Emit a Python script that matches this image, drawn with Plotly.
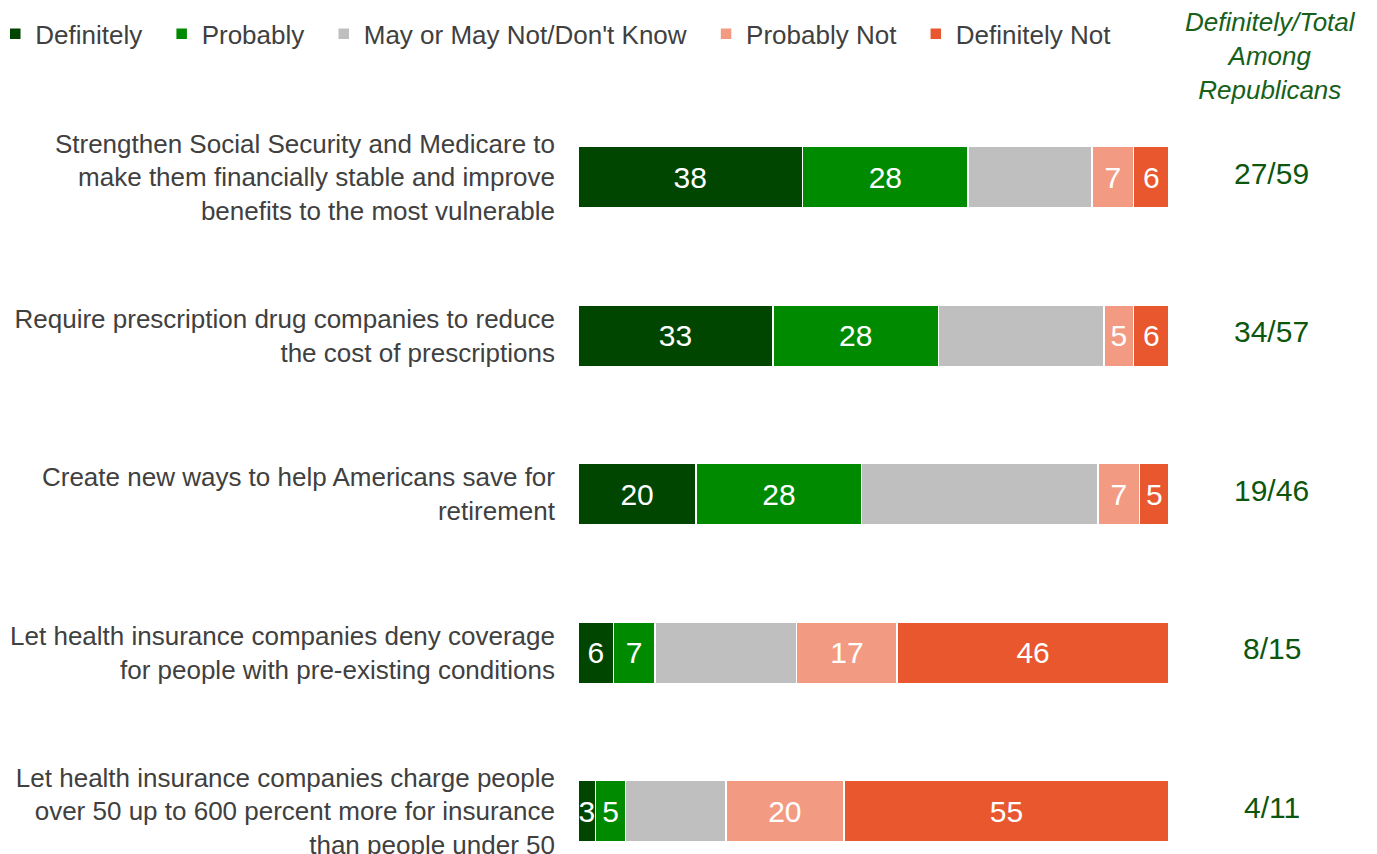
import plotly.graph_objects as go

categories = [
    "Strengthen Social Security and Medicare to<br>make them financially stable and improve<br>benefits to the most vulnerable",
    "Require prescription drug companies to reduce<br>the cost of prescriptions",
    "Create new ways to help Americans save for<br>retirement",
    "Let health insurance companies deny coverage<br>for people with pre-existing conditions",
    "Let health insurance companies charge people<br>over 50 up to 600 percent more for insurance<br>than people under 50",
]
definitely = [38, 33, 20, 6, 3]
probably = [28, 28, 28, 7, 5]
unsure = [21, 28, 40, 24, 17]
probably_not = [7, 5, 7, 17, 20]
definitely_not = [6, 6, 5, 46, 55]
republicans = ["27/59", "34/57", "19/46", "8/15", "4/11"]

NB = "\u00a0"
series = [
    ("Definitely" + NB * 2, definitely, "#004600", True),
    ("Probably" + NB * 2, probably, "#008A00", True),
    ("May or May Not/Don't Know" + NB * 2, unsure, "#BFBFBF", False),
    ("Probably Not" + NB * 2, probably_not, "#F39B82", True),
    ("Definitely Not", definitely_not, "#E8572D", True),
]

fig = go.Figure()
for name, vals, color, labelled in series:
    fig.add_trace(
        go.Bar(
            y=categories,
            x=vals,
            name=name,
            orientation="h",
            marker=dict(color=color, line=dict(color="white", width=1.5)),
            text=[str(v) for v in vals] if labelled else None,
            textposition="inside",
            insidetextanchor="middle",
            textfont=dict(color="white", size=30),
            hoverinfo="skip",
        )
    )

# right-hand column of Republican figures
for cat, txt in zip(categories, republicans):
    fig.add_annotation(
        x=1.174, y=cat, xref="paper", yref="y", text=txt, showarrow=False,
        xanchor="center", yshift=4,
        font=dict(size=30, color="#0d560d"),
    )
fig.add_annotation(
    x=1.171, y=1.055, xref="paper", yref="paper",
    text="<i>Definitely/Total<br>Among<br>Republicans</i>",
    showarrow=False, align="center", xanchor="center", yanchor="middle",
    font=dict(size=26, color="#17601a"),
)

fig.update_layout(
    barmode="stack",
    bargap=0.61,
    width=1377,
    height=854,
    plot_bgcolor="white",
    paper_bgcolor="white",
    font=dict(family="Liberation Sans, Arial, sans-serif", color="#404040"),
    margin=dict(l=570, r=216, t=90, b=8, autoexpand=False),
    uniformtext=dict(minsize=30, mode="show"),
    xaxis=dict(range=[0, 100], visible=False),
    yaxis=dict(
        type="category",
        range=[4.27, -0.5],
        automargin=False,
        showgrid=False,
        showline=False,
        ticks="",
        ticklabelstandoff=22,
        tickfont=dict(size=26, color="#404040"),
    ),
    legend=dict(
        orientation="h",
        x=-0.986,
        xanchor="left",
        y=1.0847,
        yanchor="middle",
        font=dict(size=26, color="#404040"),
        itemwidth=30,
        traceorder="normal",
    ),
)

fig.write_html("out.html")
